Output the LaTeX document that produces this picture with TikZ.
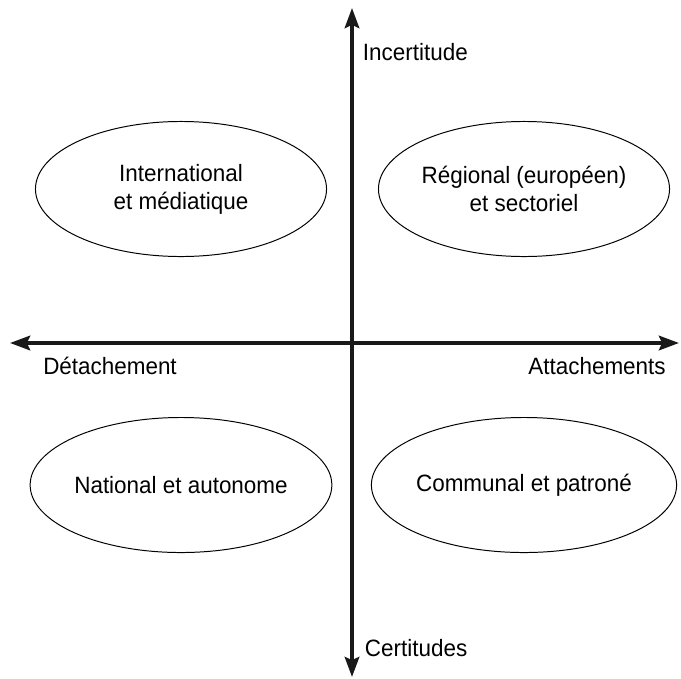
\documentclass[tikz,border=0pt]{standalone}
\usepackage{fontspec}
\setmainfont{Liberation Sans}[FakeStretch=0.95]
\usetikzlibrary{shapes.geometric, arrows.meta, positioning}

\begin{document}
\begin{tikzpicture}[x=0.025cm, y=-0.025cm,
            pole/.style={ellipse, draw, line width=0.7pt, minimum width=7.275cm, minimum height=3.375cm, inner sep=0pt, align=center, font=\fontsize{16.8}{20}\selectfont},
            axis/.style={{Stealth[length=0.5cm, width=0.36cm, inset=0.08cm]}-{Stealth[length=0.5cm, width=0.36cm, inset=0.08cm]}, line width=2.8pt, black!90},
            label/.style={font=\fontsize{16.8}{20}\selectfont}
        ]
            \useasboundingbox (0,0) rectangle (681,678);

% axis ends
            \coordinate (north) at (352,8);
            \coordinate (south) at (352,677);
            \coordinate (west) at (10,343);
            \coordinate (east) at (679,343);

            \draw[axis] (south) -- (north);
            \draw[axis] (west) -- (east);

% axis labels
            \node[label, anchor=west] (incert) at (358,52) {Incertitude};
            \node[label, anchor=west] (cert) at (360,648) {Certitudes};
            \node[label] (detach) at (110,366) {Détachement};
            \node[label] (attach) at (597,366) {Attachements};

% quadrants
            \node[pole] (inter) at (181,189) {International\\et médiatique};
            \node[pole] (region) at (524,189) {Régional (européen)\\et sectoriel};
            \node[pole] (nation) at (181,485) {National et autonome};
            \node[pole] (commune) at (524,485) {Communal et patroné};

        \end{tikzpicture}
\end{document}
